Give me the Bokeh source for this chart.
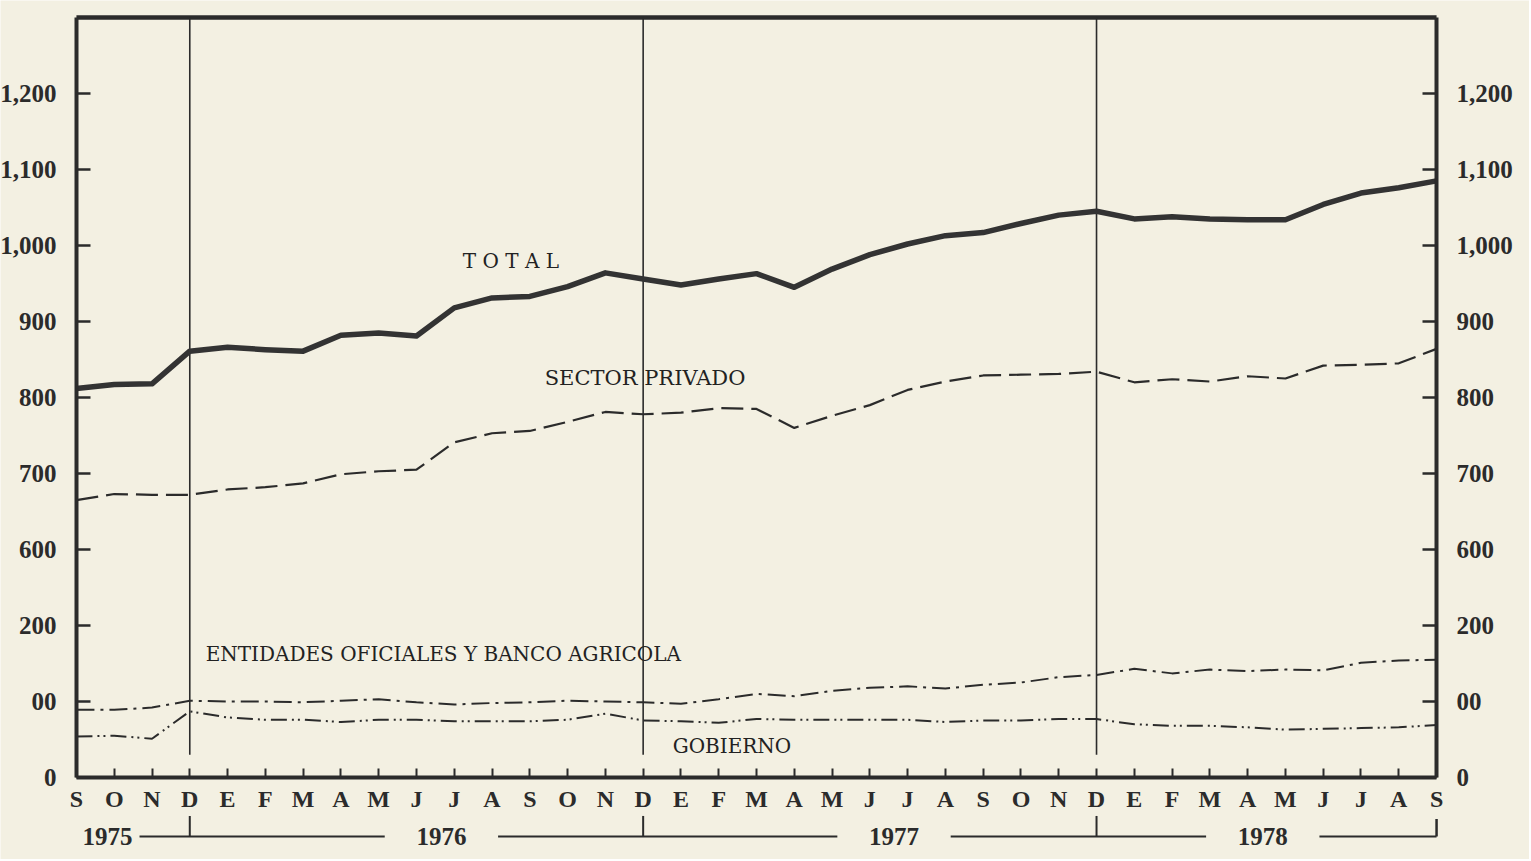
import numpy as np
from bokeh.plotting import figure
from bokeh.models import LinearAxis, FixedTicker, Range1d, Label
from bokeh.core.properties import value
from bokeh.embed import file_html
from bokeh.resources import INLINE

# ---------------- data ----------------
months = ["S", "O", "N", "D", "E", "F", "M", "A", "M", "J", "J", "A",
          "S", "O", "N", "D", "E", "F", "M", "A", "M", "J", "J", "A",
          "S", "O", "N", "D", "E", "F", "M", "A", "M", "J", "J", "A", "S"]

total = [812, 817, 818, 861, 866, 863, 861, 882, 885, 881, 918, 931,
         933, 946, 964, 956, 948, 956, 963, 945, 969, 988, 1002, 1013,
         1017, 1029, 1040, 1045, 1035, 1038, 1035, 1034, 1034, 1054, 1069, 1076, 1085]

privado = [665, 673, 672, 672, 679, 682, 687, 699, 703, 705, 741, 753,
           756, 768, 781, 778, 780, 786, 785, 760, 776, 790, 810, 821,
           829, 830, 831, 834, 820, 824, 821, 828, 825, 842, 843, 845, 864]

entidades = [89, 89, 92, 101, 100, 100, 99, 101, 103, 99, 96, 98,
             99, 101, 100, 99, 97, 103, 110, 107, 114, 118, 120, 117,
             122, 125, 132, 135, 143, 137, 142, 140, 142, 141, 151, 154, 155]

gobierno = [54, 55, 51, 87, 79, 76, 76, 73, 76, 76, 74, 74,
            74, 76, 84, 75, 74, 72, 77, 76, 76, 76, 76, 73,
            75, 75, 77, 77, 70, 68, 68, 66, 63, 64, 65, 66, 69]

y_tick_values = [0, 100, 200, 600, 700, 800, 900, 1000, 1100, 1200]
y_tick_labels = ["0", "00", "200", "600", "700", "800", "900", "1,000", "1,100", "1,200"]

years = ["1975", "1976", "1977", "1978"]
year_centers = [0.82, 9.66, 21.64, 31.40]
december_idx = [3, 15, 27]

PAPER = "#f3f0e2"
INK = "#2b2b2b"


def to_plot(v):
    """Broken scale: 0-200 as is, 600+ shifted down by 300 (gap 200-600)."""
    v = np.asarray(v, dtype=float)
    return np.where(v <= 200, v, v - 300)


x = np.arange(len(months))
n_last = len(months) - 1
TOP = float(to_plot(1300))          # top border of the chart box
YEAR_ROW = -77.6                    # year band below the month letters

# the frame spans the whole canvas; axes are pinned to the box edges
p = figure(width=1529, height=859, output_backend="svg", toolbar_location=None,
           x_range=Range1d(-2.01, 38.46), y_range=Range1d(-107.9, 1022.4),
           min_border_left=0, min_border_right=0, min_border_top=0, min_border_bottom=0,
           background_fill_color=PAPER, border_fill_color=PAPER,
           outline_line_color=None)
p.grid.visible = False

AX_FONT = "Liberation Serif"

# ---- month axis, pinned at value 0 ----
xa = p.xaxis[0]
xa.fixed_location = 0
xa.bounds = (0, n_last)
xa.ticker = FixedTicker(ticks=list(range(len(months))))
xa.major_label_overrides = {int(i): m for i, m in enumerate(months)}
xa.major_tick_in = 9
xa.major_tick_out = 0
xa.minor_tick_in = 0
xa.minor_tick_out = 0
xa.major_tick_line_width = 2
xa.major_tick_line_color = INK
xa.axis_line_width = 4
xa.axis_line_color = INK
xa.major_label_text_font = AX_FONT
xa.major_label_text_font_style = "bold"
xa.major_label_text_font_size = "24px"
xa.major_label_text_color = INK
xa.major_label_standoff = 9

# ---- y axes, pinned at first and last month ----
plot_ticks = [float(t) for t in to_plot(y_tick_values)]
overrides = {t: lab for t, lab in zip(plot_ticks, y_tick_labels)}

ly = p.yaxis[0]
ry = LinearAxis()
p.add_layout(ry, "right")
for ax, standoff, loc in ((ly, 20, 0), (ry, 20, n_last)):
    ax.fixed_location = loc
    ax.ticker = FixedTicker(ticks=plot_ticks)
    ax.major_label_overrides = overrides
    ax.bounds = (0, TOP)
    ax.major_tick_in = 14
    ax.major_tick_out = 0
    ax.minor_tick_in = 0
    ax.minor_tick_out = 0
    ax.major_tick_line_width = 2.5
    ax.major_tick_line_color = INK
    ax.axis_line_width = 4
    ax.axis_line_color = INK
    ax.major_label_text_font = AX_FONT
    ax.major_label_text_font_style = "bold"
    ax.major_label_text_font_size = "25px"
    ax.major_label_text_color = INK
    ax.major_label_standoff = standoff

# ---- top border of the box ----
p.segment(x0=[0], y0=[TOP], x1=[n_last], y1=[TOP], line_color=INK, line_width=4.5)

# ---- December dividers ----
p.segment(x0=december_idx, y0=[30] * len(december_idx),
          x1=december_idx, y1=[TOP] * len(december_idx),
          line_color=INK, line_width=1.6)

# ---- series ----
p.line(x, to_plot(privado), line_color=INK, line_width=2.2, line_dash="22 8")
p.line(x, to_plot(entidades), line_color=INK, line_width=2, line_dash="18 6 3 6")
p.line(x, to_plot(gobierno), line_color=INK, line_width=2, line_dash="16 5 2 4 2 5")
p.line(x, to_plot(total), line_color="#333333", line_width=5.5, line_join="round")

# ---- series labels ----
LBL_FONT = "DejaVu Serif"
for txt, lx, ly_, size in (("T O T A L", 11.5, to_plot(980), "20px"),
                           ("SECTOR PRIVADO", 15.05, to_plot(826), "21px"),
                           ("ENTIDADES OFICIALES Y BANCO AGRICOLA", 9.71, to_plot(162), "20px"),
                           ("GOBIERNO", 17.35, to_plot(42), "20px")):
    p.add_layout(Label(x=lx, y=float(ly_), text=txt, text_font=LBL_FONT,
                       text_font_size=size, text_color="#222222",
                       text_align="center", text_baseline="middle"))

# ---- year band: line broken around year names, marks at December ----
half_gap = 1.5
starts = [year_centers[0] + 0.85] + [c + half_gap for c in year_centers[1:]]
ends = [c - half_gap for c in year_centers[1:]] + [n_last]
p.segment(x0=starts, y0=[YEAR_ROW] * len(starts), x1=ends, y1=[YEAR_ROW] * len(ends),
          line_color=INK, line_width=2)
p.segment(x0=december_idx, y0=[YEAR_ROW] * len(december_idx),
          x1=december_idx, y1=[YEAR_ROW + 27] * len(december_idx),
          line_color=INK, line_width=2)
p.segment(x0=[n_last], y0=[YEAR_ROW], x1=[n_last], y1=[YEAR_ROW + 23],
          line_color=INK, line_width=2.5)
p.text(x=year_centers, y=[YEAR_ROW] * len(years), text=years,
       text_font=value(AX_FONT), text_font_style="bold", text_font_size="25px",
       text_color=INK, text_align="center", text_baseline="middle")

open("out.html", "w").write(file_html(p, INLINE))
